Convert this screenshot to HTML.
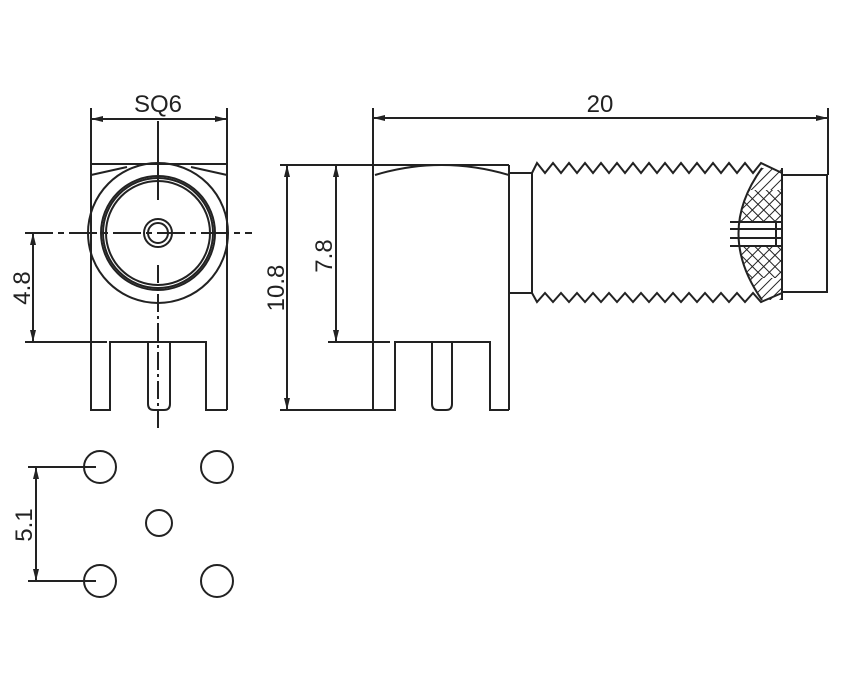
<!DOCTYPE html>
<html><head><meta charset="utf-8"><style>
html,body{margin:0;padding:0;background:#fff;}
svg{display:block;}
text{font-family:"Liberation Sans",sans-serif;font-size:24px;fill:#222;}
</style></head><body>
<svg width="852" height="675" viewBox="0 0 852 675" xmlns="http://www.w3.org/2000/svg">
<defs>
<marker id="a" viewBox="0 0 12 6" refX="12" refY="3" markerWidth="13" markerHeight="6" orient="auto-start-reverse" markerUnits="userSpaceOnUse"><path d="M0,0 L12,3 L0,6z" fill="#222"/></marker>
<pattern id="diag" width="7" height="7" patternUnits="userSpaceOnUse" patternTransform="rotate(45)"><line x1="0" y1="0" x2="0" y2="7" stroke="#222" stroke-width="2"/></pattern>
<pattern id="cross" width="8" height="8" patternUnits="userSpaceOnUse" patternTransform="rotate(45)"><line x1="0" y1="0" x2="0" y2="8" stroke="#222" stroke-width="2"/><line x1="0" y1="0" x2="8" y2="0" stroke="#222" stroke-width="2"/></pattern>
<clipPath id="sec"><path d="M762,168 Q715,233 762,300 L782,300 L782,168z"/></clipPath>
</defs>
<g fill="none" stroke="#222" stroke-width="2">
<!-- FRONT VIEW -->
<line x1="91" y1="108" x2="91" y2="410"/>
<line x1="227" y1="108" x2="227" y2="410"/>
<line x1="91" y1="119" x2="227" y2="119" marker-start="url(#a)" marker-end="url(#a)"/>
<line x1="91" y1="164" x2="227" y2="164"/>
<line x1="91" y1="175" x2="127" y2="167"/>
<line x1="227" y1="175" x2="191" y2="167"/>
<circle cx="158" cy="233" r="70"/>
<circle cx="158" cy="233" r="57"/>
<circle cx="158" cy="233" r="55"/>
<circle cx="158" cy="233" r="52"/>
<circle cx="158" cy="233" r="14"/>
<circle cx="158" cy="233" r="10"/>
<line x1="158" y1="121" x2="158" y2="200"/>
<line x1="158" y1="265" x2="158" y2="430" stroke-dasharray="18,4,3,4"/>
<line x1="25" y1="233" x2="252" y2="233" stroke-dasharray="28,5,6,5"/>
<line x1="33" y1="233" x2="33" y2="342" marker-start="url(#a)" marker-end="url(#a)"/>
<line x1="25" y1="342" x2="107" y2="342"/>
<path d="M91,342 V410 H110 V342 H206 V410 H227"/>
<path d="M148,342 V404 Q148,410 154,410 H164 Q170,410 170,404 V342"/>
<!-- SIDE VIEW -->
<line x1="373" y1="108" x2="373" y2="410"/>
<line x1="828" y1="108" x2="828" y2="175"/>
<line x1="373" y1="118" x2="828" y2="118" marker-start="url(#a)" marker-end="url(#a)"/>
<line x1="280" y1="165" x2="509" y2="165"/>
<path d="M375,175 Q441,155 509,175"/>
<line x1="509" y1="165" x2="509" y2="410"/>
<line x1="287" y1="165" x2="287" y2="410" marker-start="url(#a)" marker-end="url(#a)"/>
<line x1="336" y1="165" x2="336" y2="342" marker-start="url(#a)" marker-end="url(#a)"/>
<line x1="280" y1="410" x2="373" y2="410"/>
<line x1="328" y1="342" x2="390" y2="342"/>
<path d="M373,410 H395 V342 H490 V410 H509"/>
<path d="M432,342 V404 Q432,410 438,410 H446 Q452,410 452,404 V342"/>
<rect x="509" y="173" width="23" height="120"/>
<path id="tt" d=""/>
<path id="tb" d=""/>
<rect x="782" y="175" width="45" height="117"/>
<line x1="782" y1="168" x2="782" y2="300"/>
<g clip-path="url(#sec)" stroke="none">
<rect x="720" y="160" width="70" height="30" fill="url(#diag)"/>
<rect x="720" y="190" width="70" height="32" fill="url(#cross)"/>
<rect x="720" y="246" width="70" height="32" fill="url(#cross)"/>
<rect x="720" y="278" width="70" height="30" fill="url(#diag)"/>
</g>
<path d="M762,168 Q715,233 762,300"/>
<line x1="730" y1="222" x2="782" y2="222"/>
<line x1="730" y1="229" x2="782" y2="229"/>
<line x1="730" y1="238" x2="782" y2="238"/>
<line x1="730" y1="246" x2="782" y2="246"/>
<line x1="776" y1="222" x2="776" y2="246"/>
<!-- PAD VIEW -->
<circle cx="100" cy="467" r="16"/>
<circle cx="217" cy="467" r="16"/>
<circle cx="159" cy="523" r="13"/>
<circle cx="100" cy="581" r="16"/>
<circle cx="217" cy="581" r="16"/>
<line x1="28" y1="467" x2="96" y2="467"/>
<line x1="28" y1="581" x2="96" y2="581"/>
<line x1="36" y1="467" x2="36" y2="581" marker-start="url(#a)" marker-end="url(#a)"/>
</g>
<text x="158" y="112" text-anchor="middle">SQ6</text>
<text x="600" y="112" text-anchor="middle">20</text>
<text transform="translate(30,288) rotate(-90)" text-anchor="middle">4.8</text>
<text transform="translate(284,288) rotate(-90)" text-anchor="middle">10.8</text>
<text transform="translate(332,256) rotate(-90)" text-anchor="middle">7.8</text>
<text transform="translate(32,525) rotate(-90)" text-anchor="middle">5.1</text>
<script>
(function(){
 var t="M532,173 L537,163",b="M532,293 L537,302",x=537,p=16,up=true;
 while(x<760){x+=p/2; if(x>762)x=762; t+=" L"+x+","+(up?173:163); b+=" L"+x+","+(up?293:302); up=!up;}
 t+=" L782,173"; b+=" L782,293";
 document.getElementById('tt').setAttribute('d',t);
 document.getElementById('tb').setAttribute('d',b);
})();
</script>
</svg>
</body></html>
